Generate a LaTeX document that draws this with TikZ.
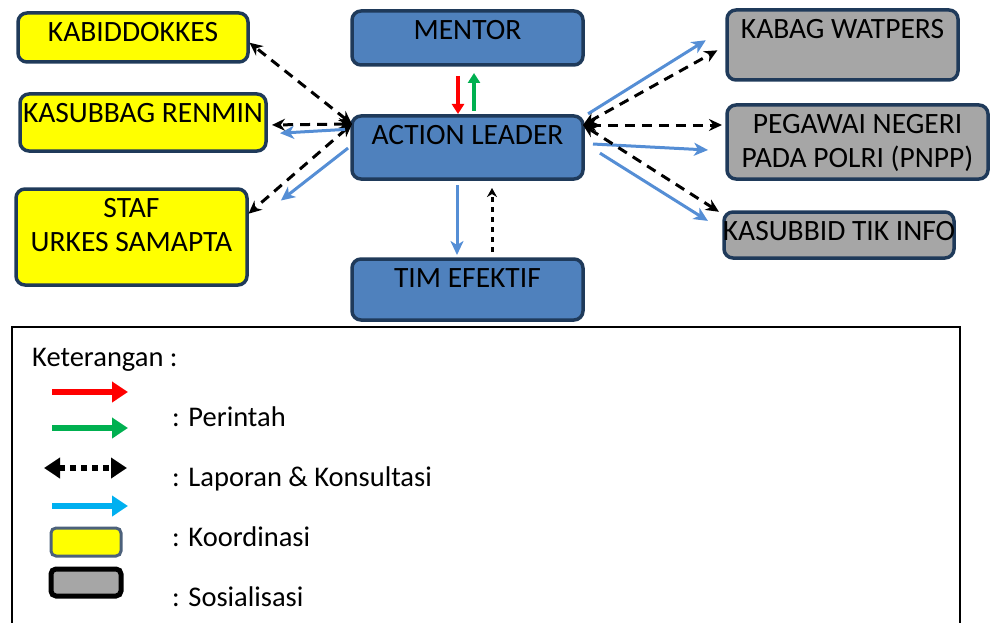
\documentclass[tikz,border=0pt]{standalone}
\usepackage{fontspec}
\setmainfont{Carlito}
\usetikzlibrary{arrows.meta}
\definecolor{navy}{HTML}{1F3A5A}
\definecolor{boxblue}{HTML}{4F81BD}
\definecolor{kuning}{HTML}{FFFF00}
\definecolor{abu}{HTML}{A6A6A6}
\definecolor{garis}{HTML}{558ED5}
\definecolor{merah}{HTML}{FF0000}
\definecolor{hijau}{HTML}{00B050}
\definecolor{cyan}{HTML}{00B0F0}

\begin{document}
\begin{tikzpicture}[x=1pt, y=-1pt, font=\fontsize{29.5}{34}\selectfont,
  box/.style={draw=navy, line width=3.5pt, rounded corners=9pt, anchor=north west, inner sep=0pt, outer sep=0pt},
  lead/.style={box, fill=boxblue},
  kord/.style={box, fill=kuning},
  sos/.style={box, fill=abu},
  lbl/.style={anchor=north, yshift=-9pt, inner sep=0pt, align=center},
  ket/.style={anchor=base west, inner sep=0pt, font=\fontsize{28.5}{34}\selectfont},
  lapor/.style={line width=3pt, dash pattern=on 10pt off 7pt, {Stealth[length=13pt,width=12pt]}-{Stealth[length=13pt,width=12pt]}},
  koord/.style={line width=3pt, draw=garis, -{Stealth[length=14pt,width=13pt,inset=4pt]}},
  naik/.style={line width=3pt, dash pattern=on 5pt off 5pt, -{Stealth[length=9pt,width=10pt]}},
  perintah/.style={line width=3.5pt, -{Triangle[length=10pt,width=12pt]}},
  legarrow/.style={line width=6pt, -{Triangle[length=16pt,width=20pt]}}]
\useasboundingbox (0,0) rectangle (992,623);

\node[lead, minimum width=231pt, minimum height=54pt, label={[lbl]north:MENTOR}] (mentor) at (352,11) {};
\node[lead, minimum width=231pt, minimum height=63pt, label={[lbl]north:ACTION LEADER}] (al) at (352,116) {};
\node[lead, minimum width=231pt, minimum height=61pt, label={[lbl]north:TIM EFEKTIF}] (tim) at (352,259) {};

\node[kord, minimum width=230pt, minimum height=49pt, label={[lbl]north:KABIDDOKKES}] (k1) at (18,13) {};
\node[kord, minimum width=246pt, minimum height=57pt, label={[lbl]north:KASUBBAG RENMIN}] (k2) at (20,94) {};
\node[kord, minimum width=231pt, minimum height=96pt, label={[lbl]north:STAF\\URKES SAMAPTA}] (k3) at (16,189) {};

\node[sos, minimum width=231pt, minimum height=70pt, label={[lbl]north:KABAG WATPERS}] (s1) at (727,10) {};
\node[sos, minimum width=261pt, minimum height=74pt, label={[lbl]north:PEGAWAI NEGERI\\PADA POLRI (PNPP)}] (s2) at (727,105) {};
\node[sos, minimum width=230pt, minimum height=46pt, label={[lbl]north:KASUBBID TIK INFO}] (s3) at (724,212) {};

\draw[perintah, merah, shorten <=11pt, shorten >=2pt] ([xshift=-9.5pt]mentor.south) -- ([xshift=-9.5pt]al.north);
\draw[perintah, hijau, shorten <=5pt, shorten >=8pt] ([xshift=6.5pt]al.north) -- ([xshift=6.5pt]mentor.south);

\draw[lapor, shorten >=2pt] ([yshift=-8pt]al.north west) -- ([yshift=-4pt]k1.east);
\draw[lapor, shorten >=6pt] ([yshift=-8pt]al.north west) -- ([yshift=-2.5pt]k2.east);
\draw[lapor, shorten >=2pt] ([yshift=-8pt]al.north west) -- ([yshift=22pt]k3.east);
\draw[koord, shorten <=7pt, shorten >=14pt] ([yshift=-13pt]al.north west) -- ([yshift=-11.5pt]k2.east);
\draw[koord, shorten <=5pt, shorten >=43pt] ([yshift=2.5pt]al.west) -- ([yshift=10pt]k3.east);

\draw[koord, shorten <=6pt, shorten >=25pt] ([yshift=-1pt]al.north east) -- ([yshift=18pt]s1.west);
\draw[lapor, shorten >=11pt] ([yshift=-9pt]al.north east) -- (s1.west);
\draw[lapor, shorten >=5pt] ([yshift=-9pt]al.north east) -- ([yshift=17pt]s2.west);
\draw[koord, shorten <=10pt, shorten >=19pt] ([yshift=4pt]al.east) -- ([yshift=-9pt]s2.west);
\draw[koord, shorten <=20pt, shorten >=19pt] ([yshift=5pt]al.east) -- ([yshift=4pt]s3.west);
\draw[lapor, shorten >=6pt] ([yshift=-9pt]al.north east) -- ([yshift=-3pt]s3.north west);

\draw[koord, shorten <=6pt, shorten >=4pt] ([xshift=-10.5pt]al.south) -- ([xshift=-10.5pt]tim.north);
\draw[naik, shorten <=7pt, shorten >=9pt] ([xshift=24.5pt]tim.north) -- ([xshift=24.5pt]al.south);

\node[draw, line width=1.5pt, fill=white, anchor=north west, inner sep=0pt, outer sep=0pt, minimum width=948pt, minimum height=320pt] (ket) at (12,327) {};
\node[ket] (judul) at (32,366) {Keterangan :};
\node[ket] (p) at (172,426) {: Perintah};
\node[ket] (l) at (172,486) {: Laporan \& Konsultasi};
\node[ket] (ko) at (172,546) {: Koordinasi};
\node[ket] (so) at (172,606) {: Sosialisasi};

\draw[legarrow, merah] (52,392) -- (128,392);
\draw[legarrow, hijau] (52,428) -- (128,428);
\draw[line width=6pt, dash pattern=on 6pt off 5pt, {Triangle[length=16pt,width=20pt]}-{Triangle[length=16pt,width=20pt]}] (44,468) -- (127,468);
\draw[legarrow, cyan] (52,506) -- (128,506);
\draw[line width=3pt, draw=navy!80!white, fill=kuning, rounded corners=5pt] (51,528) rectangle (121,556);
\draw[line width=5pt, fill=abu, rounded corners=5pt] (51,569) rectangle (121,596);
\end{tikzpicture}
\end{document}
